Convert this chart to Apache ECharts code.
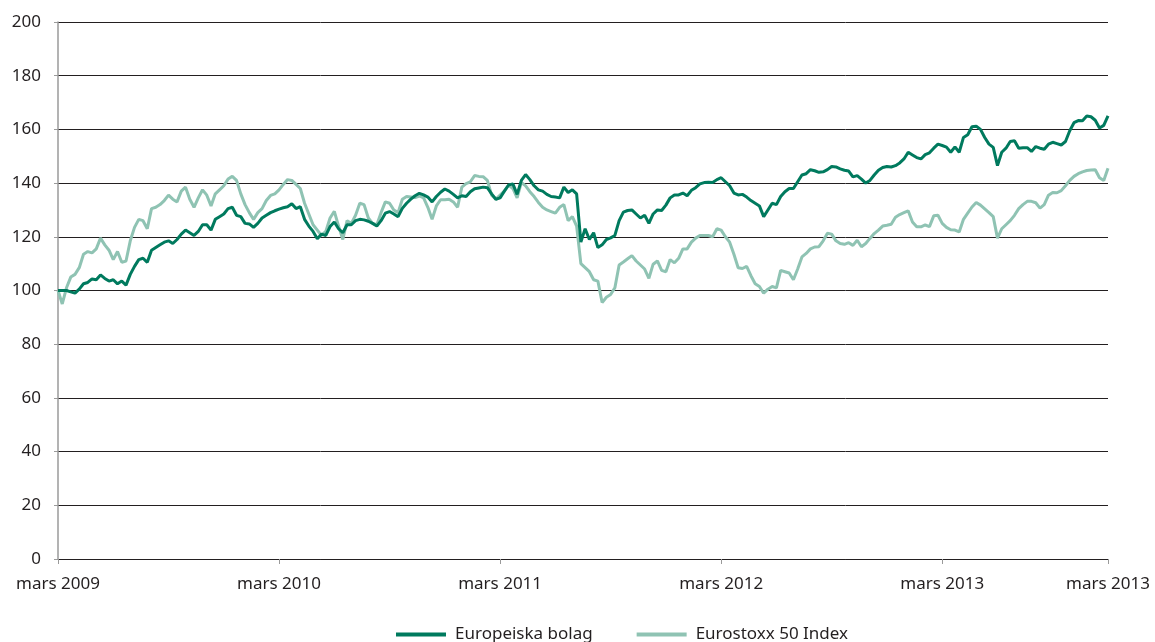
<!DOCTYPE html>
<html><head><meta charset="utf-8">
<script src="https://cdn.jsdelivr.net/npm/echarts@6/dist/echarts.min.js"></script>
<style>html,body{margin:0;padding:0;background:#fff}#c{width:1155px;height:642px}</style>
</head><body><div id="c"></div>
<script>
const seriesNames = ["Europeiska bolag", "Eurostoxx 50 Index"];
const tickLabels = ["mars 2009", "mars 2010", "mars 2011", "mars 2012", "mars 2013", "mars 2013"];
const tickIndex = [0, 52, 104, 156, 208, 247];
const yTicks = [0, 20, 40, 60, 80, 100, 120, 140, 160, 180, 200];

const europeiska = [
100,100,100,99.5,99,100.5,102.5,103,104.3,104,105.8,104.5,103.5,104,102.5,103.5,102,106,109,111.5,
112,110.5,115,116,117,118,118.5,117.5,119,121,122.5,121.5,120.5,122,124.5,124.5,122.5,126.5,127.5,128.5,
130.5,131,
128,127.5,125,124.8,123.5,125,127,128,129,129.7,130.3,130.8,131.2,132.3,130.5,131.2,126.5,124,122,119.3,
121,120.5,123.8,125.5,123,121.5,124.5,124.5,126,126.5,126.3,125.8,125,124,126,128.8,129.4,128.5,127.5,130.6,
132.5,
134,135.3,136.2,135.6,134.8,133,135,136.6,137.8,137,135.8,134.5,135.3,135,136.8,137.9,138.2,
138.5,138.3,136,134,134.5,137,139.3,139.7,135.8,141,143.2,141.3,139,137.5,137,135.8,135,134.8,134.5,138.5,
136.5,137.5,
136,118,123,119,121.5,116,117,119,119.6,120.5,126,129.2,129.8,130,128.5,127,128,125,128.5,130,
129.8,131.8,134.5,135.6,135.6,136.3,135.3,137.3,138.3,139.7,140.2,140.3,140.2,141.3,142,140.5,139,136.3,135.6,135.8,
134.8,133.5,
132.5,131.5,127.5,130,132.5,132,135,136.8,138,138,140.5,143,143.5,145,144.6,144,144.2,145,146.2,146,
145.3,144.8,144.5,142.3,142.8,141.5,140,141,143,144.8,145.8,146.2,146,146.5,147.5,149,151.5,150.5,149.5,149,
150.6,151.3,153,
154.5,154,153.4,151.5,153.5,151.5,157,158,161,161.2,160,157,154.5,153.3,146.5,151.5,153,155.5,155.8,153,
153.2,153.2,151.8,153.6,153,152.6,154.5,155.2,154.7,154.2,155.5,159.5,162.5,163.3,163.2,165,164.7,163.4,160.5,161.5,
165
];

const eurostoxx = [
100,95,101,105,106,108.5,113.5,114.5,114,115.5,119.5,117,115,111.5,114.5,110.5,111,118.5,123.5,126.5,
126,123,130.5,131,132,133.5,135.5,134,133,137,138.5,134,131,134.5,137.5,135.5,131.5,136,137.5,139,
141.5,142.5,
141,136,132,129,126.5,129,130.5,133.5,135.4,136,137.5,139.5,141.3,141,139.5,138,132.5,128.5,124.5,122.5,
120.5,122,127,129.5,124,119,126,125,128,132.5,132,127,125,124.5,129,133,132.5,130,129,134,
135,
134.8,134.6,135.2,134.5,131,126.5,131.5,133.8,133.8,134,133,131,138.5,139.8,140.5,142.8,142.5,
142.4,141,135.5,134,135.5,137,139.3,138,134.5,140.3,139,136.8,135,132.8,131,130,129.4,128.8,131,132,
126,127.5,
124,110,108.5,107,104,103.5,95.5,97.5,98.5,101,109.5,110.6,111.8,113,111,109.5,108,104.5,109.8,111,
107.5,107,111.5,110.3,112,115.5,115.5,118,119.5,120.5,120.5,120.5,120,123,122.5,120,118,113.5,108.5,108.2,
109,105.5,
102.5,101.5,99,100.5,101.5,101,107.5,107,106.5,104,108,112.5,113.8,115.5,116.2,116.3,118.5,121.3,121,118.5,
117.5,117.2,117.8,116.8,118.7,116.3,117.5,119.4,121.2,122.5,124,124.3,124.7,127.3,128.3,129,129.7,125.5,123.7,123.7,
124.4,123.8,127.8,
128,125,123.5,122.6,122.5,121.8,126.5,128.8,131.1,132.8,131.8,130.4,129,127.5,119.5,123,124.5,126,128,130.5,
132,133.2,133.2,132.7,130.7,132,135.5,136.5,136.4,137.2,139,141,142.5,143.5,144.2,144.7,144.9,145,142,141,
145.5
];

const categories = europeiska.map((_, i) => String(i));
const labelAt = {};
tickIndex.forEach((ix, k) => { labelAt[ix] = tickLabels[k]; });
const showTick = (i) => labelAt[i] !== undefined;

const FONT = "'Noto Sans', sans-serif";
const TXT = "#231f20";
const chart = echarts.init(document.getElementById('c'), null, {renderer: 'canvas'});
chart.setOption({
  animation: false,
  backgroundColor: '#fff',
  grid: {left: 58, right: 47, top: 22, bottom: 83, containLabel: false},
  legend: {
    top: 621, left: 391, itemWidth: 50, itemHeight: 4, itemGap: 44,
    icon: 'rect',
    textStyle: {fontFamily: FONT, fontSize: 17, color: TXT, padding: [0, 0, 0, 4]},
    data: seriesNames
  },
  xAxis: {
    type: 'category', data: categories, boundaryGap: false,
    axisLine: {lineStyle: {color: '#231f20', width: 1}},
    axisTick: {show: true, interval: showTick, length: 5, lineStyle: {color: '#9a9a9a'}},
    axisLabel: {
      interval: showTick, formatter: (v, i) => labelAt[i] || '',
      fontFamily: FONT, fontSize: 17, color: TXT, margin: 17
    },
    splitLine: {show: false}
  },
  yAxis: {
    type: 'value', min: 0, max: 200, interval: 20,
    axisLine: {show: true, lineStyle: {color: '#9a9a9a', width: 1.5}},
    axisTick: {show: true, length: 4, lineStyle: {color: '#9a9a9a'}},
    axisLabel: {fontFamily: FONT, fontSize: 17, color: TXT, margin: 17},
    splitLine: {show: true, lineStyle: {color: '#231f20', width: 1}}
  },
  series: [
    {name: seriesNames[0], type: 'line', data: europeiska, symbol: 'none', z: 3,
     lineStyle: {color: '#007a5e', width: 3}, itemStyle: {color: '#007a5e'}},
    {name: seriesNames[1], type: 'line', data: eurostoxx, symbol: 'none', z: 2,
     lineStyle: {color: '#8fc3b3', width: 3}, itemStyle: {color: '#8fc3b3'}}
  ]
});
</script></body></html>
